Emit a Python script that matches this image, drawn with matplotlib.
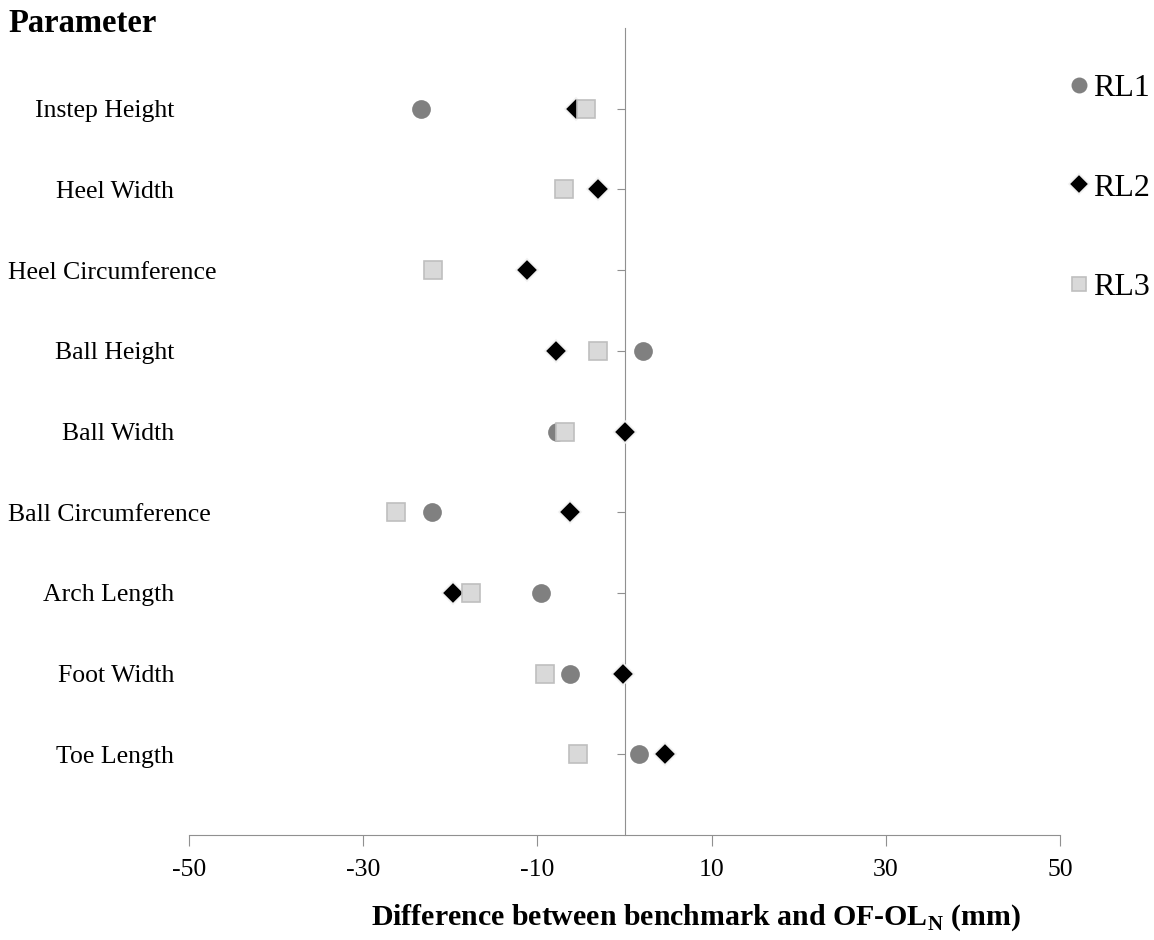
import numpy as np
import matplotlib
matplotlib.use("Agg")
import matplotlib.pyplot as plt

plt.rcParams['font.family'] = ['Liberation Serif', 'DejaVu Serif']
plt.rcParams['mathtext.fontset'] = 'custom'
plt.rcParams['mathtext.rm'] = 'Liberation Serif'
plt.rcParams['mathtext.bf'] = 'Liberation Serif:bold'

# parameters, listed bottom to top
parameters = ['Toe Length', 'Foot Width', 'Arch Length', 'Ball Circumference',
              'Ball Width', 'Ball Height', 'Heel Circumference', 'Heel Width',
              'Instep Height']
rl1 = [1.7, -6.2, -9.6, -22.1, -7.8, 2.1, np.nan, np.nan, -23.4]
rl2 = [4.7, -0.2, -19.7, -6.3, 0.1, -7.9, -11.2, -3.0, -5.6]
rl3 = [-5.3, -9.1, -17.6, -26.2, -6.8, -3.0, -22.0, -6.9, -4.4]
xticks = [-50, -30, -10, 10, 30, 50]

pos = np.arange(1, len(parameters) + 1)

fig = plt.figure(figsize=(11.54, 9.4), dpi=100)
ax = fig.add_axes([189 / 1154, 105 / 940, 871 / 1154, 807 / 940])

ax.plot(rl1, pos, 'o', color='#808080', markersize=13.5, markeredgewidth=0,
        label='RL1', zorder=3)
ax.plot(rl2, pos, 'D', color='black', markersize=11.5, markeredgecolor='#f0f0f0',
        markeredgewidth=1.2, label='RL2', zorder=4)
ax.plot(rl3, pos, 's', markerfacecolor='#d9d9d9', markeredgecolor='#bfbfbf',
        markersize=12.5, markeredgewidth=1.2, label='RL3', zorder=5)

ax.set_xlim(-50, 50)
ax.set_ylim(0, 10)

for side in ['top', 'right']:
    ax.spines[side].set_visible(False)
ax.spines['left'].set_position(('data', 0))
ax.spines['left'].set_color('#909090')
ax.spines['bottom'].set_color('#909090')

ax.set_xticks(xticks)
ax.set_xticklabels([str(v) for v in xticks], fontsize=18.5)
ax.tick_params(axis='x', direction='out', length=8, color='#909090', pad=9)
ax.set_yticks(pos)
ax.set_yticklabels([])
ax.tick_params(axis='y', direction='out', length=6, color='#909090')

# category labels: right aligned, long ones pushed back inside the left edge
fig.canvas.draw()
renderer = fig.canvas.get_renderer()
for p, name in zip(pos, parameters):
    t = fig.text(174 / 1154, 0, name, ha='right', va='center_baseline',
                 fontsize=18.5)
    y_fig = fig.transFigure.inverted().transform(ax.transData.transform((0, p)))[1]
    t.set_y(y_fig)
    if t.get_window_extent(renderer).x0 < 8:
        t.set_x(8 / 1154)
        t.set_ha('left')

fig.text(8 / 1154, 1 - 24 / 940, 'Parameter', fontsize=23.5, fontweight='bold',
         ha='left', va='center')
fig.text(696 / 1154, 1 - 918 / 940,
         r'Difference between benchmark and OF-OL$_{\mathbf{N}}$ (mm)',
         fontsize=21.5, fontweight='bold', ha='center', va='center')

ax.legend(loc='upper left', bbox_to_anchor=(1055 / 1154, 1 - 64 / 940),
          bbox_transform=fig.transFigure, frameon=False,
          fontsize=23, labelspacing=2.2, handletextpad=0.0, markerscale=0.85,
          borderaxespad=0.0, borderpad=0.3, handlelength=0.9)

plt.savefig('out.png', dpi=100)
